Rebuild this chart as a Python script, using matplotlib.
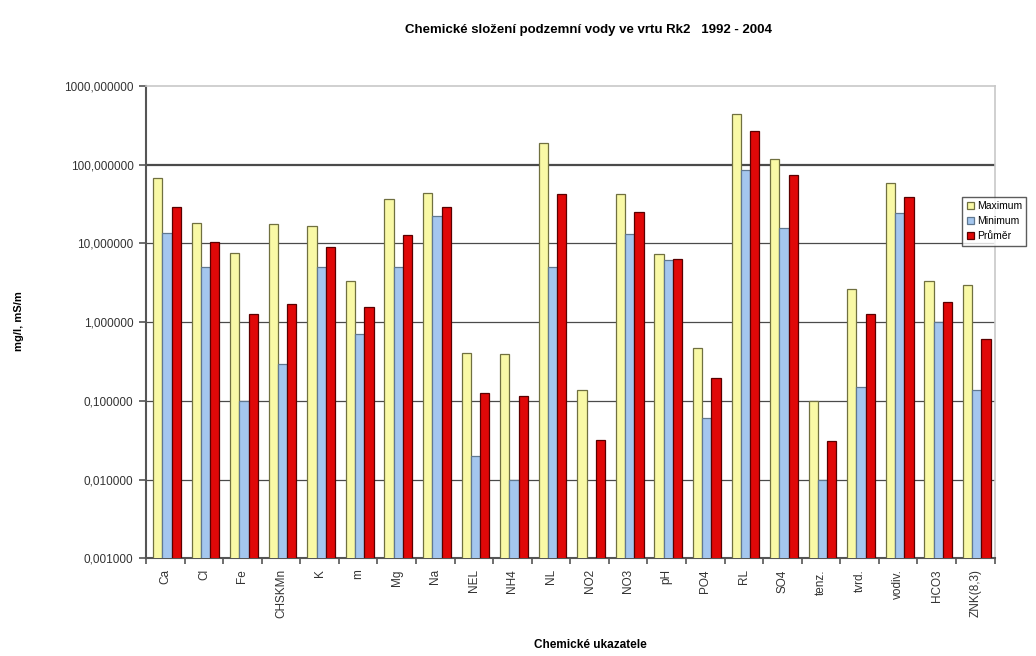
import numpy as np
import matplotlib
matplotlib.use("Agg")
import matplotlib.pyplot as plt
from matplotlib.ticker import FixedLocator, FuncFormatter

plt.rcParams["font.family"] = ["Liberation Sans", "DejaVu Sans"]

categories = ["Ca", "Cl", "Fe", "CHSKMn", "K", "m", "Mg", "Na", "NEL", "NH4", "NL",
              "NO2", "NO3", "pH", "PO4", "RL", "SO4", "tenz.", "tvrd.", "vodiv.",
              "HCO3", "ZNK(8,3)"]

maximum = [67, 18.4, 7.6, 17.5, 16.6, 3.35, 37, 44, 0.41, 0.39, 191,
           0.136, 42, 7.3, 0.47, 438, 117, 0.1, 2.67, 59, 3.35, 3.0]
minimum = [13.5, 5.0, 0.1, 0.29, 5.0, 0.70, 5.0, 22.2, 0.02, 0.01, 5.0,
           np.nan, 13.1, 6.1, 0.061, 85, 15.7, 0.01, 0.148, 24.4, 1.0, 0.136]
prumer = [29, 10.3, 1.25, 1.72, 9.0, 1.56, 12.7, 28.6, 0.127, 0.114, 42,
          0.0316, 25, 6.4, 0.195, 269, 73.6, 0.031, 1.26, 39, 1.81, 0.61]

series_names = ["Maximum", "Minimum", "Průměr"]

fig = plt.figure(figsize=(10.36, 6.56), dpi=100)
ax = fig.add_axes([0.141, 0.149, 0.819, 0.72])
ax.set_yscale("log")

x = np.arange(len(categories))
w = 0.24
ax.bar(x - w + 0.04, maximum, w, color="#F9F9A6", edgecolor="#707040",
       linewidth=0.9, label=series_names[0], zorder=3)
ax.bar(x + 0.04, minimum, w, color="#A4C6EE", edgecolor="#607890",
       linewidth=0.9, label=series_names[1], zorder=3)
ax.bar(x + w + 0.04, prumer, w, color="#E00808", edgecolor="#5A0000",
       linewidth=0.9, label=series_names[2], zorder=3)

ax.set_ylim(0.001, 1000)
ax.set_xlim(-0.5, len(categories) - 0.5)

# gridlines
for v in [0.01, 0.1, 1, 10, 100]:
    ax.axhline(v, color="#4a4a4a", linewidth=1.6 if v == 100 else 0.9, zorder=1)

ax.yaxis.set_major_locator(FixedLocator([0.001, 0.01, 0.1, 1, 10, 100, 1000]))
ax.yaxis.set_minor_locator(FixedLocator([]))
ax.yaxis.set_major_formatter(FuncFormatter(lambda v, p: f"{v:.6f}".replace(".", ",")))
ax.tick_params(axis="y", labelsize=8.5, length=5, width=1.2, color="#555555",
               labelcolor="#333333", pad=4)

ax.set_xticks(x)
ax.set_xticklabels(categories, rotation=90, fontsize=8.5, color="#333333")
ax.set_xticks(np.arange(len(categories) + 1) - 0.5, minor=True)
ax.tick_params(axis="x", which="major", length=0, pad=8)
ax.tick_params(axis="x", which="minor", length=4, width=1.2, color="#555555")

for side in ["top", "right"]:
    ax.spines[side].set_color("#c8c8c8")
    ax.spines[side].set_linewidth(1.2)
for side in ["left", "bottom"]:
    ax.spines[side].set_color("#555555")
    ax.spines[side].set_linewidth(1.5)

fig.text(0.568, 0.954, "Chemické složení podzemní vody ve vrtu Rk2   1992 - 2004",
         ha="center", va="center", fontsize=9.5, fontweight="bold")
fig.text(0.018, 0.51, "mg/l, mS/m", ha="center", va="center", rotation=90,
         fontsize=8, fontweight="bold")
fig.text(0.57, 0.017, "Chemické ukazatele", ha="center", va="center",
         fontsize=8.5, fontweight="bold")

leg = fig.legend(loc="upper left", bbox_to_anchor=(0.929, 0.70), fontsize=7.5,
                 frameon=True, fancybox=False, handlelength=0.7, handleheight=0.7,
                 handletextpad=0.3, borderpad=0.4, labelspacing=0.5,
                 borderaxespad=0)
leg.get_frame().set_edgecolor("#333333")
leg.get_frame().set_linewidth(1.0)

fig.savefig("out.png", dpi=100)
